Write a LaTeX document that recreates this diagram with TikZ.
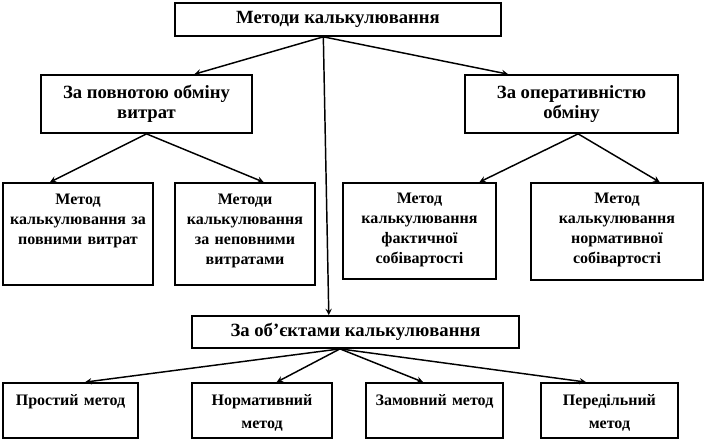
\documentclass[tikz,border=0pt]{standalone}
\usepackage{fontspec}
\setmainfont{Liberation Serif}
\usepackage{tikz}
\usetikzlibrary{arrows, positioning}
\tikzset{
    rectanglenode/.style = {draw, rectangle, line width=1.3pt, inner sep = 0em, node distance=0em, 
      align=center, font=\bfseries\fontsize{14}{15}\selectfont},
    boxnode/.style = {draw, rectangle, line width=1.3pt, inner sep = 0em, node distance=0em, 
      align=center, font=\bfseries\fontsize{12}{15}\selectfont, text height=15.75pt},
    lownode/.style = {draw, rectangle, line width=1.3pt, inner sep = 0em, node distance=0em, 
      align=center, font=\bfseries\fontsize{12}{17.25}\selectfont, text height=17.25pt, text depth=24pt},
    connect/.style = {black, line width=1.1pt, -stealth}
}
\begin{document}
\begin{tikzpicture}
    \useasboundingbox (-253.5pt,14.6pt) rectangle (276pt,-317.6pt);

    \node [name=m, rectanglenode, minimum width=244.5pt, minimum height=24.75pt] {Методи калькулювання}; 

    \node [name=p, rectanglenode, minimum width=158.25pt, minimum height=43.5pt, 
        below of = m, xshift=-143.6pt, yshift=-63.4pt] {За повнотою обміну\\витрат}; 
    \node [name=o, rectanglenode, minimum width=159.75pt, minimum height=43.5pt, 
        below of = m, xshift=175.1pt, yshift=-63.4pt] {За оперативністю\\обміну}; 

    \node [name=p1, boxnode, text width=112.5pt, text depth=60.75pt, 
        below of = m, xshift=-195pt, yshift=-160.9pt] {Метод\\калькулювання за\\повними витрат}; 
    \node [name=p2, boxnode, text width=105pt, text depth=60.75pt, 
        below of = m, xshift=-69.75pt, yshift=-160.9pt] {Методи\\калькулювання\\за неповними\\витратами}; 

    \node [name=o1, boxnode, text width=114.75pt, text depth=56.25pt, 
        below of = m, xshift=61.1pt, yshift=-158.6pt] {Метод\\калькулювання\\фактичної\\собівартості}; 
    \node [name=o2, boxnode, text width=129pt, text depth=57pt, 
        below of = m, xshift=209.25pt, yshift=-159pt] {Метод\\калькулювання\\нормативної\\собівартості}; 

    \node [name=ob, rectanglenode, minimum width=245.25pt, minimum height=24pt, 
        below of = m, xshift=13.1pt, yshift=-234.4pt] {За об’єктами калькулювання}; 

    \node [name=ob1, lownode, text width=101.25pt, below of = m, xshift=-200.6pt, yshift=-293.25pt] {Простий метод}; 
    \node [name=ob2, lownode, text width=105pt, below of = m, xshift=-57pt, yshift=-293.25pt] {Нормативний\\метод}; 
    \node [name=ob3, lownode, text width=102.75pt, below of = m, xshift=72.4pt, yshift=-293.25pt] {Замовний метод}; 
    \node [name=ob4, lownode, text width=102.75pt, below of = m, xshift=203.6pt, yshift=-293.25pt] {Передільний\\метод}; 

    \draw ([xshift=-11pt]m.south) edge[connect] ([xshift=36pt]p.north); 
    \draw ([xshift=-11pt]m.south) edge[connect] ([xshift=-47.6pt]o.north); 
    \draw ([xshift=-11pt]m.south) edge[connect] ([xshift=-20pt]ob.north); 

    \draw (p.south) edge[connect] ([xshift=-21pt]p1.north); 
    \draw (p.south) edge[connect] ([xshift=14pt]p2.north); 

    \draw ([xshift=5pt]o.south) edge[connect] ([xshift=45pt]o1.north); 
    \draw ([xshift=5pt]o.south) edge[connect] ([xshift=32pt]o2.north); 

    \draw ([xshift=-11.6pt]ob.south) edge[connect] ([xshift=11pt]ob1.north); 
    \draw ([xshift=-11.6pt]ob.south) edge[connect] ([xshift=11pt]ob2.north); 
    \draw ([xshift=-11.6pt]ob.south) edge[connect] ([xshift=-8.6pt]ob3.north); 
    \draw ([xshift=-11.6pt]ob.south) edge[connect] ([xshift=-17.6pt]ob4.north); 
\end{tikzpicture}
\end{document}
